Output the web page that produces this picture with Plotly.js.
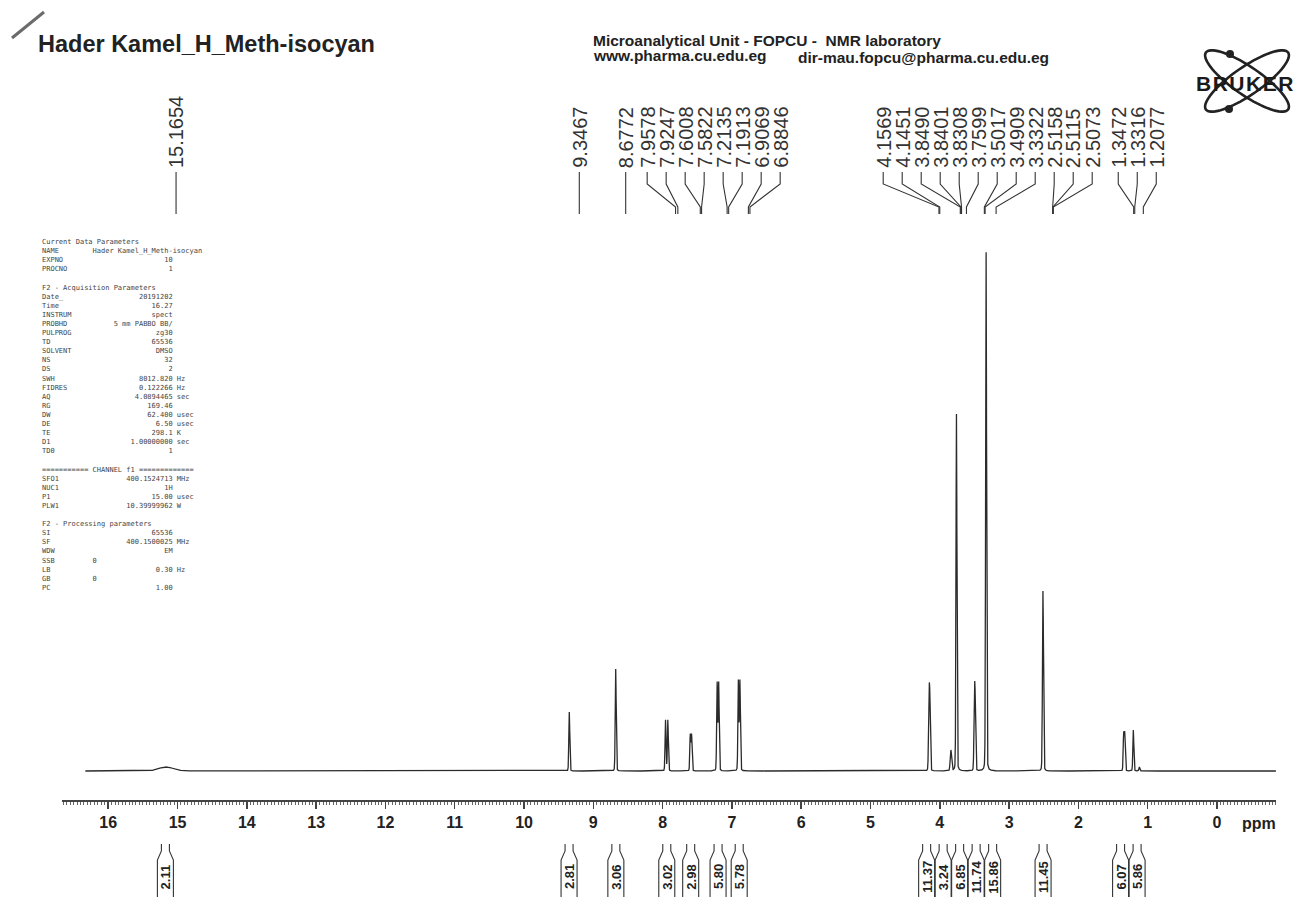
<!DOCTYPE html>
<html><head><meta charset="utf-8">
<script src="https://cdn.plot.ly/plotly-3.0.1.min.js"></script>
<style>html,body{margin:0;padding:0;background:#fff}</style>
</head><body><div id="chart" style="width:1312px;height:914px"></div>
<script>
// ---------------- data ----------------
const titleText = 'Hader Kamel_H_Meth-isocyan';
const peakShifts = [15.1654, 9.3467, 8.6772, 7.9578, 7.9247, 7.6008, 7.5822, 7.2135, 7.1913, 6.9069, 6.8846,
  4.1569, 4.1451, 3.8490, 3.8401, 3.8308, 3.7599, 3.5017, 3.4909, 3.3322, 2.5158, 2.5115, 2.5073, 1.3472, 1.3316, 1.2077];
const peakHeights = [4, 59, 102, 51, 51, 36, 36, 88, 88, 90, 90,
  65, 65, 8, 14, 8, 357, 62, 62, 519, 40, 115, 40, 36, 36, 41];
const peakHalfWidths = [0.12, 0.008, 0.008, 0.008, 0.008, 0.008, 0.008, 0.008, 0.008, 0.008, 0.008,
  0.008, 0.008, 0.008, 0.008, 0.008, 0.008, 0.008, 0.008, 0.008, 0.008, 0.008, 0.008, 0.008, 0.008, 0.008];
const minorShifts = [1.12];
const minorHeights = [4];
const integralFrom = [15.45, 9.40, 8.72, 7.99, 7.64, 7.25, 6.94, 4.20, 3.88, 3.79, 3.54, 3.38, 2.55, 1.38, 1.24];
const integralTo   = [14.90, 9.30, 8.63, 7.89, 7.55, 7.15, 6.85, 4.10, 3.80, 3.72, 3.45, 3.28, 2.47, 1.30, 1.17];
const integralValues = ['2.11', '2.81', '3.06', '3.02', '2.98', '5.80', '5.78', '11.37', '3.24', '6.85', '11.74', '15.86', '11.45', '6.07', '5.86'];
const xTickValues = [16, 15, 14, 13, 12, 11, 10, 9, 8, 7, 6, 5, 4, 3, 2, 1, 0];
const spectrumStart = 16.33, spectrumEnd = -0.85, spectrumStep = 0.001;
const paramLines = [
  ['Current Data Parameters', '', ''],
  ['NAME', 'Hader Kamel_H_Meth-isocyan', 'name'],
  ['EXPNO', '10', ''],
  ['PROCNO', '1', ''],
  ['', '', ''],
  ['F2 - Acquisition Parameters', '', ''],
  ['Date_', '20191202', ''],
  ['Time', '16.27', ''],
  ['INSTRUM', 'spect', ''],
  ['PROBHD', '5 mm PABBO BB/', ''],
  ['PULPROG', 'zg30', ''],
  ['TD', '65536', ''],
  ['SOLVENT', 'DMSO', ''],
  ['NS', '32', ''],
  ['DS', '2', ''],
  ['SWH', '8012.820', 'Hz'],
  ['FIDRES', '0.122266', 'Hz'],
  ['AQ', '4.0894465', 'sec'],
  ['RG', '169.46', ''],
  ['DW', '62.400', 'usec'],
  ['DE', '6.50', 'usec'],
  ['TE', '298.1', 'K'],
  ['D1', '1.00000000', 'sec'],
  ['TD0', '1', ''],
  ['', '', ''],
  ['=========== CHANNEL f1 =============', '', ''],
  ['SFO1', '400.1524713', 'MHz'],
  ['NUC1', '1H', ''],
  ['P1', '15.00', 'usec'],
  ['PLW1', '10.39999962', 'W'],
  ['', '', ''],
  ['F2 - Processing parameters', '', ''],
  ['SI', '65536', ''],
  ['SF', '400.1500025', 'MHz'],
  ['WDW', 'EM', ''],
  ['SSB', '0', 'left'],
  ['LB', '0.30', 'Hz'],
  ['GB', '0', 'left'],
  ['PC', '1.00', '']
];

// ---------------- layout geometry ----------------
const W = 1312, H = 914, mL = 62, mR = 36, mT = 0, mB = 114;
const plotW = W - mL - mR, plotH = H - mT - mB;
const xRange = [16.667, -0.851];
const pxPerPpm = plotW / (xRange[0] - xRange[1]);
const ppmToPx = p => mL + (xRange[0] - p) * pxPerPpm;
const pxToPpm = x => xRange[0] - (x - mL) / pxPerPpm;
const py = y => (plotH + mT - y) / plotH;       // pixel row -> paper y
const pxp = x => (x - mL) / plotW;               // pixel column -> paper x

// ---------------- spectrum (pseudo-Voigt line shape) ----------------
const eta = 0.12;
const shape = d => eta / (1 + d * d) + (1 - eta) * Math.exp(-Math.LN2 * d * d);
const specX = [], specY = [];
const nPts = Math.round((spectrumStart - spectrumEnd) / spectrumStep);
for (let k = 0; k <= nPts; k++) {
  const x = spectrumStart - k * spectrumStep;
  let y = 0;
  for (let i = 0; i < peakShifts.length; i++) {
    y += peakHeights[i] * shape((x - peakShifts[i]) / peakHalfWidths[i]);
  }
  for (let i = 0; i < minorShifts.length; i++) {
    y += minorHeights[i] * shape((x - minorShifts[i]) / 0.008);
  }
  specX.push(x); specY.push(y);
}

// ---------------- label spreading ----------------
function spread(centers, gap) {
  const clusters = [];
  centers.forEach((c, i) => {
    clusters.push({ idx: [i], sum: c });
    while (clusters.length > 1) {
      const b = clusters[clusters.length - 1], a = clusters[clusters.length - 2];
      const aC = a.sum / a.idx.length, bC = b.sum / b.idx.length;
      const aEnd = aC + (a.idx.length - 1) / 2 * gap;
      const bStart = bC - (b.idx.length - 1) / 2 * gap;
      if (bStart - aEnd < gap) { a.idx = a.idx.concat(b.idx); a.sum += b.sum; clusters.pop(); }
      else break;
    }
  });
  const out = [];
  clusters.forEach(cl => {
    const n = cl.idx.length, c = cl.sum / n;
    cl.idx.forEach((i, k) => { out[i] = c + (k - (n - 1) / 2) * gap; });
  });
  return out;
}

const shapes = [], annotations = [];
const ink = '#2b2b2b';
const sans = 'Liberation Sans, Arial, sans-serif';

// peak labels
const topShift = 10;
const peakPx = peakShifts.map(p => ppmToPx(p) + topShift);
const labelPx = spread(peakPx, 19);
peakShifts.forEach((p, i) => {
  const lx = pxToPpm(labelPx[i]), kx = pxToPpm(peakPx[i]);
  annotations.push({
    x: lx, xref: 'x', y: py(169), yref: 'paper', xanchor: 'center', yanchor: 'bottom',
    text: p.toFixed(4), textangle: -90, showarrow: false, borderpad: 0,
    font: { family: sans, size: 20, color: '#333' }
  });
  shapes.push({
    type: 'path', xref: 'x', yref: 'paper', layer: 'above',
    path: `M ${lx},${py(172)} L ${lx},${py(184)} L ${kx},${py(207)} L ${kx},${py(214)}`,
    line: { color: '#333', width: 1.1 }
  });
});

// integrals
const intCenters = integralFrom.map((f, i) => ppmToPx((f + integralTo[i]) / 2));
const intPx = spread(intCenters, 16.5);
intPx.forEach((c, i) => {
  const L = pxToPpm(c - 8), Ln = pxToPpm(c - 4), R = pxToPpm(c + 8), Rn = pxToPpm(c + 4);
  shapes.push({
    type: 'path', xref: 'x', yref: 'paper', layer: 'above',
    path: `M ${Ln},${py(844)} L ${Ln},${py(851)} L ${L},${py(860)} L ${L},${py(897)} ` +
          `M ${Rn},${py(844)} L ${Rn},${py(851)} L ${R},${py(860)} L ${R},${py(897)}`,
    line: { color: '#333', width: 1.1 }
  });
  annotations.push({
    x: pxToPpm(c), xref: 'x', y: py(877), yref: 'paper', xanchor: 'center', yanchor: 'middle',
    text: integralValues[i], textangle: -90, showarrow: false, borderpad: 0,
    font: { family: sans, size: 13, color: '#222', weight: 'bold' }
  });
});

// ppm unit label
annotations.push({
  x: -0.6, xref: 'x', y: py(823), yref: 'paper', xanchor: 'center', yanchor: 'middle',
  text: 'ppm', showarrow: false,
  font: { family: sans, size: 16, color: '#222', weight: 'bold' }
});

// header texts
annotations.push({
  x: pxp(591), xref: 'paper', y: py(40), yref: 'paper', xanchor: 'left', yanchor: 'middle',
  text: 'Microanalytical Unit - FOPCU - \u00a0NMR laboratory', showarrow: false,
  font: { family: sans, size: 15.5, color: '#222', weight: 'bold' }
});
annotations.push({
  x: pxp(591), xref: 'paper', y: py(56), yref: 'paper', xanchor: 'left', yanchor: 'middle',
  text: 'www.pharma.cu.edu.eg', showarrow: false,
  font: { family: sans, size: 15.5, color: '#222', weight: 'bold' }
});
annotations.push({
  x: pxp(796), xref: 'paper', y: py(57), yref: 'paper', xanchor: 'left', yanchor: 'middle',
  text: 'dir-mau.fopcu@pharma.cu.edu.eg', showarrow: false,
  font: { family: sans, size: 15.5, color: '#222', weight: 'bold' }
});

// parameter block
const nb = s => s.replace(/ /g, '\u00a0');
const paramText = paramLines.map(([k, v, u]) => {
  if (!v) return nb(k) || '\u00a0';
  if (u === 'name' || u === 'left') return nb(k.padEnd(12) + v);
  return nb(k.padEnd(12) + v.padStart(19) + (u ? ' ' + u : ''));
}).join('<br>');
annotations.push({
  x: pxp(40), xref: 'paper', y: py(236), yref: 'paper', xanchor: 'left', yanchor: 'top', align: 'left',
  text: paramText, showarrow: false,
  font: { family: 'DejaVu Sans Mono, Liberation Mono, monospace', size: 7, color: '#444' }
});

// Bruker logo
function ellipsePath(cx, cy, a, b, deg) {
  const th = deg * Math.PI / 180; let s = '';
  for (let k = 0; k <= 72; k++) {
    const t = k / 72 * 2 * Math.PI;
    const x = cx + a * Math.cos(t) * Math.cos(th) - b * Math.sin(t) * Math.sin(th);
    const y = cy + a * Math.cos(t) * Math.sin(th) + b * Math.sin(t) * Math.cos(th);
    s += (k ? ' L ' : 'M ') + pxp(x).toFixed(5) + ',' + py(y).toFixed(5);
  }
  return s + ' Z';
}
[34.6, -34.6].forEach(d => shapes.push({
  type: 'path', xref: 'paper', yref: 'paper', layer: 'above',
  path: ellipsePath(1247, 81, 50, 14, d), line: { color: '#222', width: 2.6 }
}));
[[1230, 54], [1229, 109]].forEach(([x, y]) => shapes.push({
  type: 'circle', xref: 'paper', yref: 'paper', layer: 'above',
  x0: pxp(x - 4), x1: pxp(x + 4), y0: py(y + 4), y1: py(y - 4),
  fillcolor: '#222', line: { width: 0 }
}));
annotations.push({
  x: pxp(1245), xref: 'paper', y: py(83), yref: 'paper', xanchor: 'center', yanchor: 'middle',
  text: '<span style="letter-spacing:1.5px">BRUKER</span>', showarrow: false,
  font: { family: sans, size: 21, color: '#1a1a1a', weight: 'bold' }
});

// pen mark on the scan
shapes.push({
  type: 'line', xref: 'paper', yref: 'paper', x0: pxp(12), y0: py(38), x1: pxp(44), y1: py(12),
  line: { color: '#6b6b6b', width: 3 }
});

const data = [{
  type: 'scatter', mode: 'lines', x: specX, y: specY,
  line: { color: ink, width: 1.3 }, hoverinfo: 'skip', showlegend: false
}];

const layout = {
  width: W, height: H, margin: { l: mL, r: mR, t: mT, b: mB },
  paper_bgcolor: '#ffffff', plot_bgcolor: 'rgba(0,0,0,0)',
  title: {
    text: titleText, x: 38 / W, xanchor: 'left', xref: 'container',
    y: 1 - 44 / H, yanchor: 'middle', yref: 'container',
    font: { family: sans, size: 23.5, color: '#222', weight: 'bold' }
  },
  showlegend: false,
  xaxis: {
    range: xRange, tickmode: 'linear', tick0: 0, dtick: 1,
    ticks: 'outside', ticklen: 7, tickwidth: 1.5, tickcolor: '#444',
    showline: true, linecolor: '#444', linewidth: 1.5,
    showgrid: false, zeroline: false,
    tickfont: { family: sans, size: 16, color: '#222', weight: 'bold' },
    minor: { tick0: 0, dtick: 0.05, ticks: 'outside', ticklen: 3, tickwidth: 1, tickcolor: '#666', showgrid: false },
    fixedrange: true
  },
  yaxis: { domain: [0, 0.7], range: [-29, 531], visible: false, fixedrange: true },
  shapes: shapes, annotations: annotations
};

Plotly.newPlot('chart', data, layout, { displayModeBar: false, staticPlot: true });
</script>
</body></html>
